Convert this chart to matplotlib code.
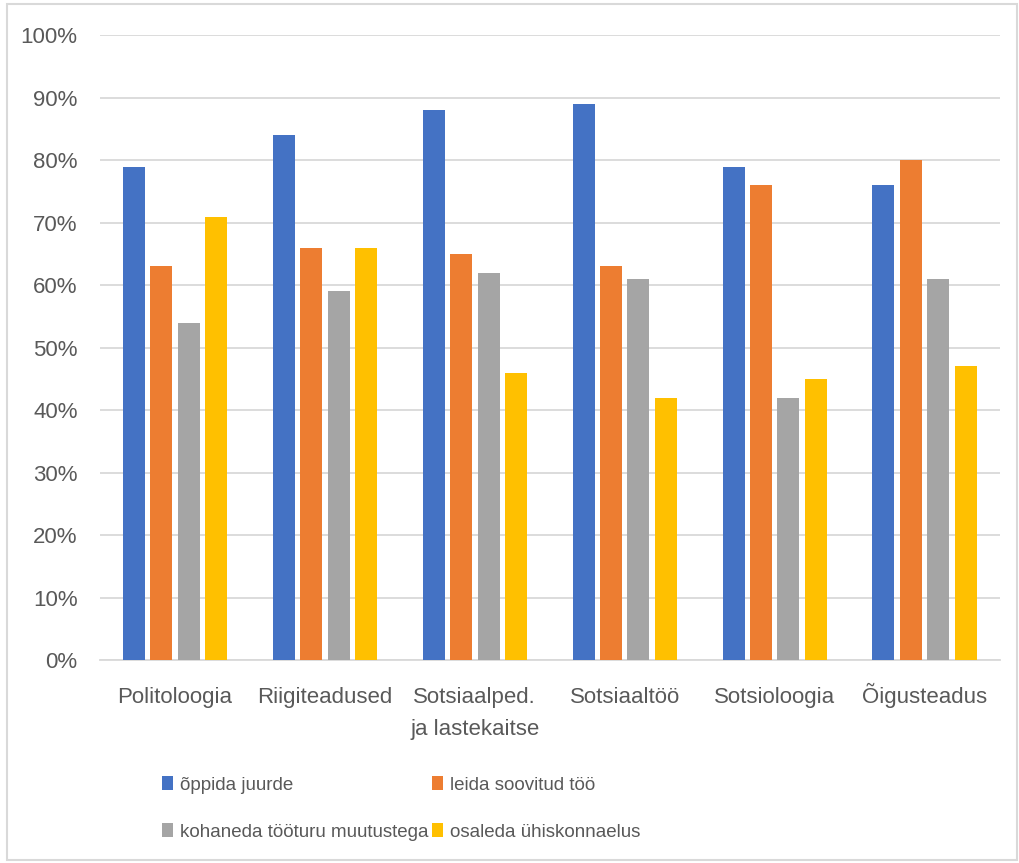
import matplotlib.pyplot as plt
import numpy as np
from matplotlib.patches import Rectangle

# === Andmed ===
categories = ["Politoloogia", "Riigiteadused", "Sotsiaalped.\nja lastekaitse",
              "Sotsiaaltöö", "Sotsioloogia", "Õigusteadus"]
series_names = ["õppida juurde", "leida soovitud töö",
                "kohaneda tööturu muutustega", "osaleda ühiskonnaelus"]
oppida = [79, 84, 88, 89, 79, 76]
leida = [63, 66, 65, 63, 76, 80]
kohaneda = [54, 59, 62, 61, 42, 61]
osaleda = [71, 66, 46, 42, 45, 47]
y_ticks = [0, 10, 20, 30, 40, 50, 60, 70, 80, 90, 100]

colors = ["#4472C4", "#ED7D31", "#A5A5A5", "#FFC000"]
text_color = "#595959"

plt.rcParams['font.family'] = ['Liberation Sans', 'DejaVu Sans']

fig = plt.figure(figsize=(10.2, 8.63), dpi=100)
ax = fig.add_axes([0.098, 0.2352, 0.882, 0.7242])

x = np.arange(len(categories))
width = 0.147
pitch = 0.183
all_series = [oppida, leida, kohaneda, osaleda]
bars = []
for i, (vals, col) in enumerate(zip(all_series, colors)):
    offs = (i - 1.5) * pitch
    b = ax.bar(x + offs, vals, width, color=col, label=series_names[i], zorder=3)
    bars.append(b)

ax.set_xlim(-0.5, len(categories) - 0.5)
ax.set_ylim(0, 100.05)
ax.set_yticks(y_ticks)
ax.set_yticklabels([f"{t}%" for t in y_ticks])
ax.set_xticks(x)
ax.set_xticklabels([])
ax.yaxis.grid(True, color="#D9D9D9", linewidth=1.3, zorder=0)
for s in ["top", "right", "left"]:
    ax.spines[s].set_visible(False)
ax.spines["bottom"].set_color("#D9D9D9")
ax.spines["bottom"].set_linewidth(1.3)
ax.tick_params(axis="both", length=0, colors=text_color, labelsize=16)
ax.tick_params(axis="y", pad=16)

# x-sildid rida haaval, et Õ ei lükkaks rida alla
for xi, cat in zip(x, categories):
    for k, line in enumerate(cat.split("\n")):
        ax.annotate(line, xy=(xi, 0), xycoords=("data", "axes fraction"),
                    xytext=(0, -31 - k * 23), textcoords="offset points",
                    ha="center", va="baseline", fontsize=16, color=text_color)

# legend kahes veerus, ridade kaupa
leg_kw = dict(loc="upper left", frameon=False, fontsize=13.5, labelcolor=text_color,
              handlelength=0.6, handleheight=0.8, handletextpad=0.35,
              labelspacing=1.56, borderpad=0, borderaxespad=0)
fig.legend(handles=[bars[0], bars[2]], labels=[series_names[0], series_names[2]],
           bbox_to_anchor=(162 / 1020, 1 - 776 / 863), **leg_kw)
fig.legend(handles=[bars[1], bars[3]], labels=[series_names[1], series_names[3]],
           bbox_to_anchor=(432 / 1020, 1 - 776 / 863), **leg_kw)

# raam
fig.patches.append(Rectangle((0.007, 0.003), 0.99, 0.992, transform=fig.transFigure,
                             fill=False, edgecolor="#D9D9D9", linewidth=1.5))

plt.savefig("out.png", dpi=100)
